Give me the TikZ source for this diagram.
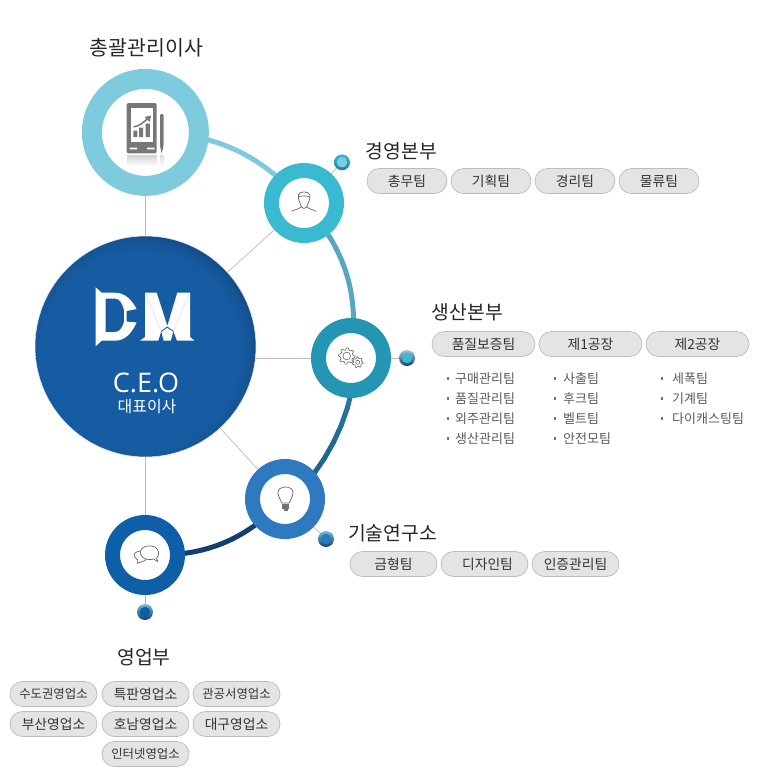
\documentclass[tikz,border=0pt]{standalone}
\usepackage{fontspec}
\setmainfont{Noto Sans CJK KR}
\newfontfamily\latinlight{Open Sans}
\usetikzlibrary{backgrounds,calc,shadings}
\definecolor{cTop}{HTML}{7FCBDE}
\definecolor{cA}{HTML}{3ABAD1}
\definecolor{cB}{HTML}{2496B3}
\definecolor{cC}{HTML}{2E79BF}
\definecolor{cD}{HTML}{0F5FA8}
\definecolor{cCeo}{HTML}{165CA3}
\definecolor{cCeoDark}{HTML}{123F70}
\definecolor{pillFill}{HTML}{E6E3E4}
\definecolor{pillLine}{HTML}{BDBBBC}
\definecolor{wire}{HTML}{BBBBBB}
\definecolor{iconGrey}{HTML}{777777}
\definecolor{gTop}{HTML}{2C80A8}
\definecolor{gBot}{HTML}{1C5586}
\definecolor{dotLight}{HTML}{6FBFD6}
\definecolor{dotPale}{HTML}{A8C4D0}
\definecolor{dotDark}{HTML}{123F70}
\definecolor{dotTeal}{HTML}{1F7F9F}
\pgfdeclareradialshading{ceoshade}{\pgfpoint{-2.6bp}{-2.2bp}}{
 color(0bp)=(cCeo); color(22bp)=(cCeo); color(25bp)=(cCeo!75!cCeoDark); color(28.5bp)=(cCeoDark); color(50bp)=(cCeoDark)}
\tikzset{
 ring/.style={circle,inner sep=0pt,outer sep=0pt,fill=white,draw=#1,line width=15pt,minimum size=65pt},
 dotcore/.style={circle,inner sep=0pt,outer sep=0pt,minimum size=10.5pt,fill=#1},
 heading/.style={text=black!85,inner sep=0pt,font=\fontsize{19.3}{19.3}\selectfont},
 pill/.style={draw=pillLine,fill=pillFill,line width=.7pt,rounded corners=12.5pt,minimum height=25pt,inner sep=0pt,text=black!80,font=\fontsize{13.8}{14}\selectfont},
 pillsix/.style={pill,font=\fontsize{12.4}{14}\selectfont},
 item/.style={anchor=west,inner sep=0pt,text=black!65,font=\fontsize{13}{13}\selectfont},
 conn/.style={draw=wire,line width=.7pt},
 icon/.style={draw=black!60,line width=.7pt,line join=round,line cap=round},
}
\newcommand{\dmdot}[4]{%
 \shade[top color=#3,bottom color=#4] (#1) circle (8pt);
 \node[dotcore=#2] at (#1) {};}
\begin{document}
\begin{tikzpicture}[x=1pt,y=-1pt]
\useasboundingbox (0,0) rectangle (758,780);
% main circles
\node[circle,inner sep=0pt,outer sep=0pt,minimum size=221pt,shading=ceoshade,draw=black!10,line width=.6pt] (ceo) at (145.5,346.5) {};
\node[ring=cTop,line width=20pt,minimum size=107pt] (top) at (145.4,132.4) {};
\node[ring=cA] (a) at (304,203) {};
\node[ring=cB] (b) at (351,358) {};
\node[ring=cC] (c) at (285,499) {};
\node[ring=cD] (d) at (145,555) {};
% small dots
\coordinate (p1) at (342,162.3);
\coordinate (p2) at (407,358);
\coordinate (p3) at (326,539);
\coordinate (p4) at (145,612);
\dmdot{p1}{cTop}{cA}{dotTeal}
\dmdot{p2}{cA}{dotPale}{dotDark}
\dmdot{p3}{cC}{dotLight}{dotDark}
\dmdot{p4}{cD}{dotLight}{dotDark}
\begin{pgfonlayer}{background}
 \draw[conn] (ceo.center -| top) -- (top);
 \draw[conn] (ceo) -- (a);
 \draw[conn] (b -| ceo) -- (b);
 \draw[conn] (ceo) -- (c);
 \draw[conn] (ceo.center -| d) -- (d);
 \draw[conn] (a) -- (p1);
 \draw[conn] (b) -- (p2);
 \draw[conn] (c) -- (p3);
 \draw[conn] (d) -- (p4);
 \draw[cTop,line width=5pt] (top.center) to[bend left=24] (a.center);
 \draw[color={rgb,255:red,90;green,166;blue,194},line width=5pt] (a.center) to[bend left=25] (b.center);
 \foreach \i [evaluate=\i as \ang using {2+5*\i}] in {0,...,9} {\coordinate (g\i) at ($(ceo)+(\ang:211)$);}
 \draw[color=gTop,line width=5pt] (b.center) -- (g0);
 \foreach \i/\j [evaluate=\i as \pct using {int(100-\i*11)}] in {0/1,1/2,2/3,3/4,4/5,5/6,6/7,7/8,8/9} {
  \draw[color=gTop!\pct!gBot,line width=5pt,line cap=round] (g\i) -- (g\j);
 }
 \draw[color=gBot,line width=5pt] (g9) -- (c.center);
 \draw[color=cCeoDark,line width=5pt] (c.center) to[bend left=24] (d.center);
\end{pgfonlayer}
% DM logo
\fill[white,even odd rule] (95.7,287.3) -- (101.7,292.7) -- (115,292.7) .. controls (125,292.7) and (132,300) .. (136.5,309) -- (126.5,311) -- (126.5,321.5) -- (136.5,322.5) .. controls (132,333) and (125,340.7) .. (115,340.7) -- (101.7,340.7) -- (95.7,346.2) -- cycle
 (105.5,298.5) -- (105.5,332) -- (115,332) .. controls (120,332) and (122.5,327) .. (124,322) -- (124,310) .. controls (122.5,304) and (120,298.5) .. (115,298.5) -- cycle;
\fill[white] (140,340.7) -- (145,337) -- (145,292.7) -- (156.7,292.7) -- (167.3,326) -- (177.3,292.7) -- (190,292.7) -- (190,337) -- (194.5,340.7) -- cycle;
\fill[cCeo] (158.3,341) -- (161.2,331.5) -- (163.6,341) -- cycle;
\fill[cCeo] (170.8,341) -- (173.4,331.5) -- (177,341) -- cycle;
\draw[cCeo,line width=.9pt,line join=round] (161.2,331.5) -- (167.3,327) -- (173.4,331.5);
\draw[cCeo!25!white,line width=.3pt] (146,294) -- (161,331) (189,294) -- (173.5,331);
\node[text=white,inner sep=0pt,font=\fontsize{27}{27}\selectfont\latinlight] (ceotxt) at (146,382.5) {C.E.O};
\node[text=white,inner sep=0pt,font=\fontsize{16}{16}\selectfont] (ceosub) at (147,406.5) {대표이사};
% phone icon
\fill[iconGrey,rounded corners=2pt] (126.7,103) rectangle (156.7,153.3);
\fill[white] (131,108.3) rectangle (152.7,141.7);
\fill[white] (129.5,147.7) rectangle (137,149.3) (147,147.7) rectangle (154.5,149.3);
\fill[iconGrey] (133.3,130.5) rectangle (137.3,137) (139.2,127.5) rectangle (143.2,137) (145.5,123.5) rectangle (149.8,137);
\draw[iconGrey,line width=1.5pt] (133.5,127) .. controls (139,126) and (144,122.5) .. (148,118);
\fill[iconGrey] (151,115.5) -- (144.5,117) -- (149.8,122) -- cycle;
\fill[iconGrey,rounded corners=1pt] (160,114) rectangle (163.5,146);
\fill[iconGrey] (160,146) -- (163.5,146) -- (161.7,153.5) -- cycle;
\shade[top color=black!18,bottom color=white] (127,155) rectangle (156.5,166);
\shade[top color=black!14,bottom color=white] (160,155) rectangle (163.5,166);
% person icon
\draw[icon] (300.2,203.5) .. controls (298.8,201) and (298,197) .. (298.5,194.5) .. controls (300,191) and (308,191) .. (309.8,194.5) .. controls (310.2,197) and (309.6,201) .. (308,203.5) .. controls (307,207) and (305.5,208.5) .. (304,208.5) .. controls (302.5,208.5) and (301,207) .. (300.2,203.5);
\draw[icon] (298.8,197) .. controls (302,195.5) and (306,195.5) .. (309.5,197);
\draw[icon] (291.7,211.2) .. controls (295,209.5) and (299.5,209) .. (301.2,206.8);
\draw[icon] (316.2,211.4) .. controls (313,209.5) and (308.5,209) .. (306.8,206.8);
% gears
\foreach \cx/\cy/\ro/\ri/\n/\hole in {346.7/356/8.2/6.2/8/3.8, 357.7/362.3/5.4/4/7/2} {
 \pgfmathsetmacro{\st}{360/\n}
 \pgfmathtruncatemacro{\last}{\n*4-1}
 \draw[icon,line width=.6pt] plot[samples at={0,...,\last}] ({\cx+ifthenelse(mod(\x,4)<2,\ro,\ri)*cos(\st*\x/4)},{\cy+ifthenelse(mod(\x,4)<2,\ro,\ri)*sin(\st*\x/4)}) -- cycle;
 \draw[icon,line width=.6pt] (\cx,\cy) circle (\hole);
}
% bulb icon
\draw[icon] (281.8,503) .. controls (281,499) and (278,497.5) .. (278,492.5) .. controls (278,489) and (281.5,487) .. (285.5,487) .. controls (289.5,487) and (293,489) .. (293,492.5) .. controls (293,497.5) and (290,499) .. (289.2,503) -- cycle;
\fill[black!55] (282.3,503.5) rectangle (288.7,508.5);
\fill[black!55] (283.5,508.5) rectangle (287.5,510.5);
% speech icon
\draw[icon,fill=white] (137.5,563.2) .. controls (138.5,562) and (138,561) .. (137.8,560) .. controls (133,557) and (133,553) .. (137,551.8) .. controls (141,550) and (146,552) .. (147,556) .. controls (147,560) and (144,562) .. (141,562) -- cycle;
\draw[icon,fill=white] (157.8,561.6) .. controls (156.8,560) and (156.5,559.5) .. (156.5,558.5) .. controls (160,555) and (159,549) .. (155,547) .. controls (150,544.5) and (142,546) .. (140.5,551) .. controls (139.5,556) and (144,559.5) .. (149,559.5) .. controls (151.5,559.5) and (153,559.3) .. (153.5,559) -- cycle;
% headings
\node[heading,font=\fontsize{20.5}{20.5}\selectfont] (h0) at (146.5,48) {총괄관리이사};
\node[heading] (h1) at (401.5,151) {경영본부};
\node[heading] (h2) at (467.5,312) {생산본부};
\node[heading] (h3) at (392.5,533) {기술연구소};
\node[heading] (h4) at (144,657) {영업부};
% pills A
\node[pill,minimum width=80pt] (a1) at (407,181) {\raisebox{-1pt}{총무팀}};
\node[pill,minimum width=80pt] (a2) at (491,181) {\raisebox{-1pt}{기획팀}};
\node[pill,minimum width=80pt] (a3) at (575,181) {\raisebox{-1pt}{경리팀}};
\node[pill,minimum width=80pt] (a4) at (659,181) {\raisebox{-1pt}{물류팀}};
% pills B
\node[pill,minimum width=103pt] (b1) at (483.5,344) {\raisebox{-1pt}{품질보증팀}};
\node[pill,minimum width=103pt] (b2) at (590.5,344) {\raisebox{-1pt}{제1공장}};
\node[pill,minimum width=103pt] (b3) at (697.5,344) {\raisebox{-1pt}{제2공장}};
% lists
\foreach \nm/\xb/\xt/\yy/\tx in {
 l1/448/455/378/구매관리팀, l2/448/455/398/품질관리팀, l3/448/455/418/외주관리팀, l4/448/455/438/생산관리팀,
 l5/555/563/378/사출팀, l6/555/563/398/후크팀, l7/555/563/418/벨트팀, l8/555/563/438/안전모팀,
 l9/662/672/378/세폭팀, l10/662/672/398/기계팀, l11/662/672/418/다이캐스팅팀} {
 \fill[black!55] (\xb-1.2,\yy-.7) rectangle (\xb+1.2,\yy+1.7);
 \node[item] (\nm) at (\xt,\yy+1) {\tx};
}
% pills C
\node[pill,minimum width=87pt] (c1) at (393.5,564) {\raisebox{-1pt}{금형팀}};
\node[pill,minimum width=87pt] (c2) at (484.5,564) {\raisebox{-1pt}{\hspace*{6pt}디자인팀}};
\node[pill,minimum width=87pt] (c3) at (575.5,564) {\raisebox{-1pt}{인증관리팀}};
% pills D
\node[pillsix,minimum width=87pt] (d1) at (53.5,694) {\raisebox{-1pt}{수도권영업소}};
\node[pill,minimum width=87pt] (d2) at (145.5,694) {\raisebox{-1pt}{특판영업소}};
\node[pillsix,minimum width=87pt] (d3) at (236.5,694) {\raisebox{-1pt}{관공서영업소}};
\node[pill,minimum width=87pt] (d4) at (53.5,724) {\raisebox{-1pt}{부산영업소}};
\node[pill,minimum width=87pt] (d5) at (145.5,724) {\raisebox{-1pt}{호남영업소}};
\node[pill,minimum width=87pt] (d6) at (236.5,724) {\raisebox{-1pt}{대구영업소}};
\node[pillsix,minimum width=87pt] (d7) at (145.5,754) {\raisebox{-1pt}{인터넷영업소}};
\end{tikzpicture}
\end{document}
